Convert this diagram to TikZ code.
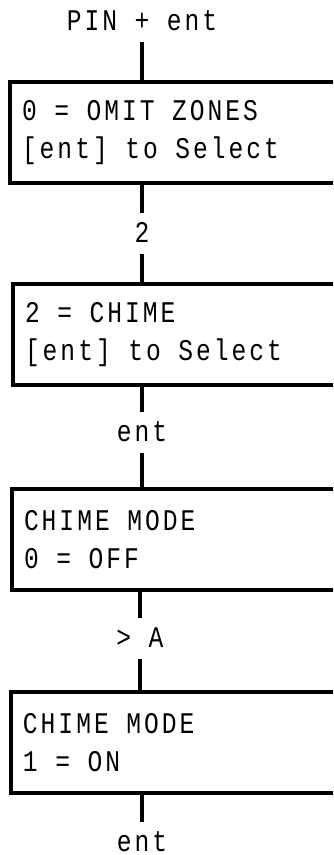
\documentclass[tikz,border=0pt]{standalone}
\usepackage{fontspec}
\newfontfamily\lcdfont[LetterSpace=10, FakeStretch=0.82]{Liberation Mono}
\newcommand\lcdsize{\fontsize{30}{38}\selectfont
  \fontdimen2\font=17.5pt\fontdimen3\font=0pt\fontdimen4\font=0pt}
\tikzset{
  lcd/.style={font=\lcdfont\lcdsize},
  screen/.style={lcd, draw, line width=4pt, anchor=north west, minimum height=101pt,
    inner xsep=12pt, inner ysep=0pt, text width=321pt, align=left,
    execute at begin node={\spaceskip=17.5pt\xspaceskip=17.5pt\relax}},
  keylabel/.style={lcd, anchor=base, inner xsep=0pt, inner ysep=12pt,
    text height=17pt, text depth=0pt},
  link/.style={line width=4pt}
}
\begin{document}
\begin{tikzpicture}[x=1pt, y=-1pt]
      \path[use as bounding box, clip] (0,0) rectangle (333,855);
      \node[keylabel] (pin) at (142,30) {PIN + ent};
      \node[screen] (omit) at (8,80) {0 = OMIT ZONES\\{[}ent] to Select};
      \node[keylabel] (two) at (142,242) {2};
      \node[screen] (chime) at (11,282) {2 = CHIME\\{[}ent] to Select};
      \node[keylabel] (ent1) at (142,441) {ent};
      \node[screen] (off) at (10,487) {CHIME MODE\\0 = OFF};
      \node[keylabel] (next) at (140,647) {> A};
      \node[screen] (on) at (9,690) {CHIME MODE\\1 = ON};
      \node[keylabel] (ent2) at (142,851) {ent};
      \begin{scope}[link]
        \draw (pin.south) to (pin.south |- omit.north);
        \draw (two.north |- omit.south) to (two.north);
        \draw (two.south) to (two.south |- chime.north);
        \draw (ent1.north |- chime.south) to (ent1.north);
        \draw (ent1.south) to (ent1.south |- off.north);
        \draw (next.north |- off.south) to (next.north);
        \draw (next.south) to (next.south |- on.north);
        \draw (ent2.north |- on.south) to (ent2.north);
      \end{scope}
    \end{tikzpicture}
\end{document}
